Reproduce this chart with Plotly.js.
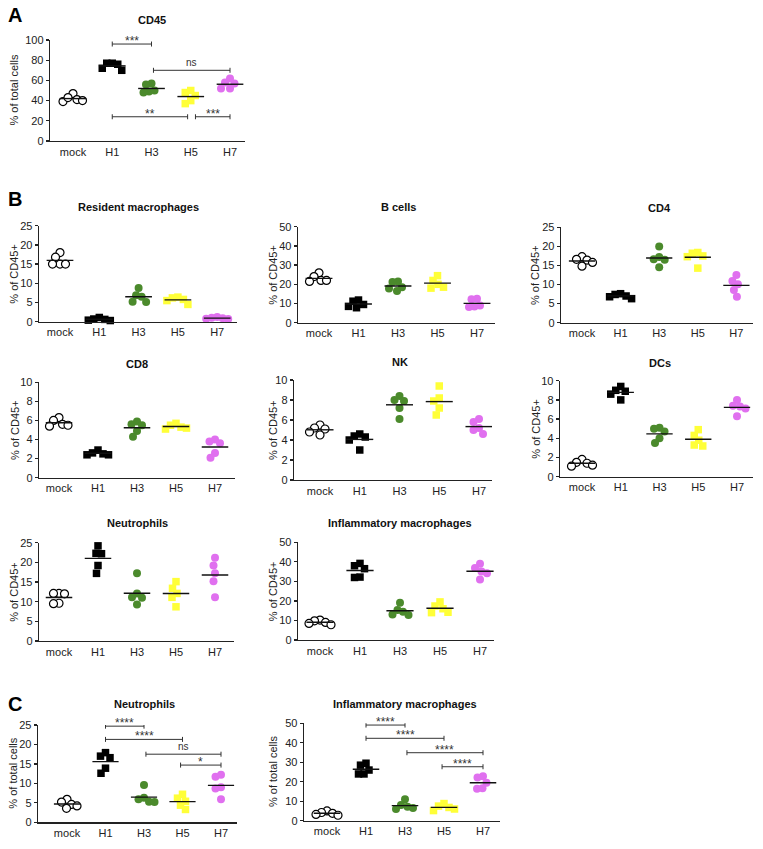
<!DOCTYPE html>
<html><head><meta charset="utf-8">
<script src="https://cdn.plot.ly/plotly-3.0.1.min.js"></script>
<style>html,body{margin:0;padding:0;background:#fff}#chart{width:763px;height:849px}</style>
</head><body><div id="chart"></div>
<script>
// ---------- DATA ----------
const groups = ['mock', 'H1', 'H3', 'H5', 'H7'];

// A: CD45 (% of total cells)
const cd45 = [[47, 41, 39, 40, 43], [77, 76, 77, 70, 72], [57, 49, 48, 50, 56], [50, 45, 40, 37, 48], [62, 58, 52, 52, 57]];
// B: % of CD45+
const resMac = [[18, 16.8, 15, 15, 15], [1.1, 0.7, 0.3, 0.4, 0.6], [8.8, 6.9, 6.5, 5.2, 5.1], [6.4, 6.2, 5.8, 5.5, 4.5], [1.2, 1.0, 0.8, 0.7, 0.9]];
const bCells = [[26, 22, 22, 24, 21.5], [11.8, 11.2, 9.5, 8.5, 7.8], [21.5, 21.2, 18.5, 16.5, 17.8], [24.5, 22, 20, 18, 18.5], [12.5, 12.2, 9.0, 8.2, 8.5]];
const cd4 = [[17.3, 16.6, 16.4, 14.8, 15.8], [7.6, 7.4, 7.0, 6.3, 6.8], [20, 17.2, 16.6, 16.5, 14.5], [18.4, 18.2, 17.5, 17.3, 14.3], [12.5, 10.9, 10.1, 8.6, 6.8]];
const cd8 = [[6.3, 6.0, 5.6, 5.4, 5.5], [2.9, 2.6, 2.4, 2.4, 2.5], [5.9, 5.6, 5.5, 4.9, 4.3], [5.7, 5.5, 5.3, 5.2, 5.1], [4.0, 3.8, 3.6, 2.6, 2.1]];
const nk = [[5.5, 5.2, 5.1, 4.8, 4.5], [4.6, 4.4, 4.3, 4.0, 3.0], [8.4, 8.0, 7.9, 7.2, 6.1], [9.4, 8.2, 7.9, 7.2, 6.5], [6.1, 5.8, 5.2, 5.0, 4.6]];
const dcs = [[1.8, 1.5, 1.4, 1.2, 1.1], [9.4, 9.0, 8.9, 8.6, 8.0], [5.1, 5.0, 4.7, 4.0, 3.5], [4.9, 4.3, 3.8, 3.3, 3.2], [8.0, 7.4, 7.3, 7.1, 6.3]];
const neutro = [[12.1, 12.1, 12.0, 9.6, 9.5], [24.2, 22.3, 22.2, 19.2, 17.2], [17.2, 12.1, 11.1, 11.0, 9.3], [15.1, 13.4, 12.1, 11.1, 8.7], [21.2, 19.2, 17.2, 15.2, 11.1]];
const inflMac = [[10.2, 9.8, 9.0, 8.5, 7.8], [39.2, 38.0, 36.5, 32.2, 32.0], [19.1, 15.4, 14.5, 13.1, 12.8], [19.5, 17.4, 16.0, 14.2, 14.0], [39.0, 36.8, 35.0, 34.2, 31.0]];
// C: % of total cells
const neutroTotal = [[5.9, 5.2, 4.6, 4.2, 3.6], [17.9, 17.0, 16.6, 13.9, 12.6], [9.6, 6.3, 5.9, 5.3, 5.2], [7.2, 6.2, 5.4, 4.4, 3.3], [12.2, 11.7, 9.0, 8.7, 5.9]];
const inflMacTotal = [[5.0, 4.2, 3.8, 3.2, 2.8], [29.5, 28.5, 26.0, 24.0, 24.0], [11.0, 8.0, 7.2, 6.5, 6.0], [8.8, 7.5, 6.8, 6.0, 5.2], [22.8, 22.2, 19.5, 16.6, 16.4]];

// tick labels
const ticks100 = [0, 20, 40, 60, 80, 100];
const ticks50 = [0, 10, 20, 30, 40, 50];
const ticks25 = [0, 5, 10, 15, 20, 25];
const ticks10 = [0, 2, 4, 6, 8, 10];

// significance comparisons (group index from/to, bracket level, label)
const cmpA_from = [1, 2.05, 1, 3.12];
const cmpA_to = [2, 4, 2.92, 4];
const cmpA_level = [96, 70, 24, 24];
const cmpA_label = ['***', 'ns', '**', '***'];
const cmpC1_from = [1, 1, 2.05, 2.95];
const cmpC1_to = [2, 3, 4, 4];
const cmpC1_level = [24.7, 21.3, 17.5, 14.7];
const cmpC1_label = ['****', '****', 'ns', '*'];
const cmpC2_from = [1, 1, 2.05, 2.95];
const cmpC2_to = [2, 3, 4, 4];
const cmpC2_level = [49.1, 42.3, 34.9, 27.7];
const cmpC2_label = ['****', '****', '****', '****'];

// ---------- STYLE / LAYOUT ----------
const W = 763, H = 849;
const FONT = 'Liberation Sans, Arial, Helvetica, sans-serif';
const symbols = ['circle', 'square', 'circle', 'square', 'circle'];
const fills = ['#ffffff', '#000000', '#4b8a2c', '#ffff38', '#e070ef'];
const sizes = [8, 7.5, 8, 7.5, 8];
const AX = '#222222';

const panels = [
  {data: cd45, title: 'CD45', yt: '% of total cells', ymax: 100, ticks: ticks100, left: 50, right: 245, mock: 73, sp: 39.25, top: 40, bot: 141, ty: 20, tx: 14,
   cmp: [cmpA_from, cmpA_to, cmpA_level, cmpA_label]},
  {data: resMac, title: 'Resident macrophages', yt: '% of CD45+', ymax: 25, ticks: ticks25, left: 39, right: 237, mock: 60, sp: 39.3, top: 225.7, bot: 321.7, ty: 207, tx: 14},
  {data: bCells, title: 'B cells', yt: '% of CD45+', ymax: 50, ticks: ticks50, left: 298, right: 495, mock: 319, sp: 39.5, top: 226.7, bot: 322.7, ty: 207, tx: 273},
  {data: cd4, title: 'CD4', yt: '% of CD45+', ymax: 25, ticks: ticks25, left: 561, right: 753, mock: 582, sp: 38.6, top: 227.3, bot: 322.7, ty: 208, tx: 535},
  {data: cd8, title: 'CD8', yt: '% of CD45+', ymax: 10, ticks: ticks10, left: 39, right: 235, mock: 59, sp: 39, top: 382.3, bot: 477.7, ty: 364, tx: 15},
  {data: nk, title: 'NK', yt: '% of CD45+', ymax: 10, ticks: ticks10, left: 294, right: 492, mock: 320, sp: 39.75, top: 380, bot: 480, ty: 362, tx: 273},
  {data: dcs, title: 'DCs', yt: '% of CD45+', ymax: 10, ticks: ticks10, left: 560, right: 753, mock: 582, sp: 38.75, top: 380.7, bot: 476.7, ty: 363, tx: 536},
  {data: neutro, title: 'Neutrophils', yt: '% of CD45+', ymax: 25, ticks: ticks25, left: 39, right: 234, mock: 59, sp: 39, top: 542.7, bot: 641, ty: 523, tx: 14},
  {data: inflMac, title: 'Inflammatory macrophages', yt: '% of CD45+', ymax: 50, ticks: ticks50, left: 298, right: 494, mock: 320, sp: 40, top: 542.3, bot: 640, ty: 523, tx: 273},
  {data: neutroTotal, title: 'Neutrophils', yt: '% of total cells', ymax: 25, ticks: ticks25, left: 38, right: 237, mock: 67, sp: 38.5, top: 725, bot: 822.3, ty: 704, tx: 13,
   cmp: [cmpC1_from, cmpC1_to, cmpC1_level, cmpC1_label]},
  {data: inflMacTotal, title: 'Inflammatory macrophages', yt: '% of total cells', ymax: 50, ticks: ticks50, left: 304, right: 500, mock: 327, sp: 39, top: 723.3, bot: 820.7, ty: 704, tx: 273,
   cmp: [cmpC2_from, cmpC2_to, cmpC2_level, cmpC2_label]}
];

// simple beeswarm: horizontal offsets (in category units) so dots spread like a Prism scatter plot
function swarm(vals, pxY, pxX, dxMin, dyMin) {
  const order = vals.map((v, i) => i).sort((a, b) => vals[b] - vals[a]);
  const placed = [], offs = new Array(vals.length);
  for (const i of order) {
    const y = vals[i] * pxY;
    let best = 0;
    for (let k = 0; k < 400; k++) {
      const c = k === 0 ? 0 : (k % 2 ? -1 : 1) * Math.ceil(k / 2) * 0.5;
      const ok = placed.every(p => {
        const a = (p.x - c) / dxMin, b = (p.y - y) / dyMin;
        return a * a + b * b >= 1;
      });
      if (ok) { best = c; break; }
    }
    placed.push({x: best, y});
    offs[i] = best / pxX;
  }
  return offs;
}

const traces = [];
const layout = {
  width: W, height: H, margin: {l: 0, r: 0, t: 0, b: 0},
  paper_bgcolor: '#ffffff', plot_bgcolor: '#ffffff',
  showlegend: false, font: {family: FONT, color: AX, size: 11},
  annotations: []
};

panels.forEach((p, idx) => {
  const s = idx === 0 ? '' : String(idx + 1);
  const xa = 'x' + s, ya = 'y' + s;
  const pxY = (p.bot - p.top) / p.ymax;
  const lo = (p.left - p.mock) / p.sp, hi = (p.right - p.mock) / p.sp;

  layout['xaxis' + s] = {
    domain: [p.left / W, p.right / W], range: [lo, hi], anchor: ya,
    tickmode: 'array', tickvals: groups.map((g, i) => i), ticktext: groups,
    ticks: '', showline: true, linecolor: AX, linewidth: 1.3,
    showgrid: false, zeroline: false, fixedrange: true,
    tickfont: {family: FONT, size: 11, color: AX}
  };
  layout['yaxis' + s] = {
    domain: [1 - p.bot / H, 1 - p.top / H], range: [0, p.ymax], anchor: xa,
    tickmode: 'array', tickvals: p.ticks, ticktext: p.ticks.map(String),
    ticks: 'outside', ticklen: 3, tickwidth: 1.3, tickcolor: AX,
    showline: true, linecolor: AX, linewidth: 1.3,
    showgrid: false, zeroline: false, fixedrange: true,
    tickfont: {family: FONT, size: 11, color: AX}
  };
  // y-axis title (rotated text)
  layout.annotations.push({
    xref: 'paper', yref: 'paper', x: p.tx / W, y: 1 - (p.top + p.bot) / 2 / H,
    xanchor: 'center', yanchor: 'middle', textangle: -90, text: p.yt, showarrow: false,
    font: {family: FONT, size: 11, color: AX}
  });

  // points
  p.data.forEach((vals, g) => {
    const offs = swarm(vals, pxY, p.sp, 5.5, 8);
    traces.push({
      type: 'scatter', mode: 'markers', xaxis: xa, yaxis: ya, cliponaxis: false,
      x: vals.map((v, i) => g + offs[i]), y: vals, hoverinfo: 'y',
      marker: {symbol: symbols[g], size: sizes[g], color: fills[g],
               line: {color: '#000', width: g === 0 ? 1.2 : 0}}
    });
  });

  // mean lines
  const mx = [], my = [];
  p.data.forEach((vals, g) => {
    const m = vals.reduce((a, b) => a + b, 0) / vals.length;
    mx.push(g - 0.34, g + 0.34, null); my.push(m, m, null);
  });
  traces.push({type: 'scatter', mode: 'lines', xaxis: xa, yaxis: ya, x: mx, y: my,
               cliponaxis: false, hoverinfo: 'skip', line: {color: '#111', width: 1.4}});

  // significance brackets
  if (p.cmp) {
    const [fr, to, lv, lb] = p.cmp;
    const d = 2.5 / pxY;
    const bx = [], by = [];
    fr.forEach((f, i) => {
      const t = to[i], l = lv[i];
      bx.push(f, f, null, f, t, null, t, t, null);
      by.push(l - d, l + d, null, l, l, null, l - d, l + d, null);
      const isNs = lb[i] === 'ns';
      layout.annotations.push({
        xref: xa, yref: ya, x: (f + t) / 2, y: l, text: lb[i], showarrow: false,
        yanchor: 'bottom', yshift: isNs ? 0 : -6,
        font: {family: FONT, size: isNs ? 10 : 12, color: '#333'}
      });
    });
    traces.push({type: 'scatter', mode: 'lines', xaxis: xa, yaxis: ya, x: bx, y: by,
                 cliponaxis: false, hoverinfo: 'skip', line: {color: '#333', width: 1}});
  }

  // panel title
  layout.annotations.push({
    xref: xa, yref: 'paper', x: 2, y: 1 - p.ty / H, yanchor: 'middle',
    text: '<b>' + p.title + '</b>', showarrow: false,
    font: {family: FONT, size: 11, color: '#111'}
  });
});

// panel letters
[['A', 15], ['B', 199], ['C', 704]].forEach(([t, y]) => {
  layout.annotations.push({xref: 'paper', yref: 'paper', x: 6 / W, y: 1 - y / H,
    xanchor: 'left', yanchor: 'middle', text: '<b>' + t + '</b>', showarrow: false,
    font: {family: FONT, size: 20, color: '#000'}});
});

Plotly.newPlot('chart', traces, layout, {staticPlot: true, displayModeBar: false});
</script>
</body></html>
